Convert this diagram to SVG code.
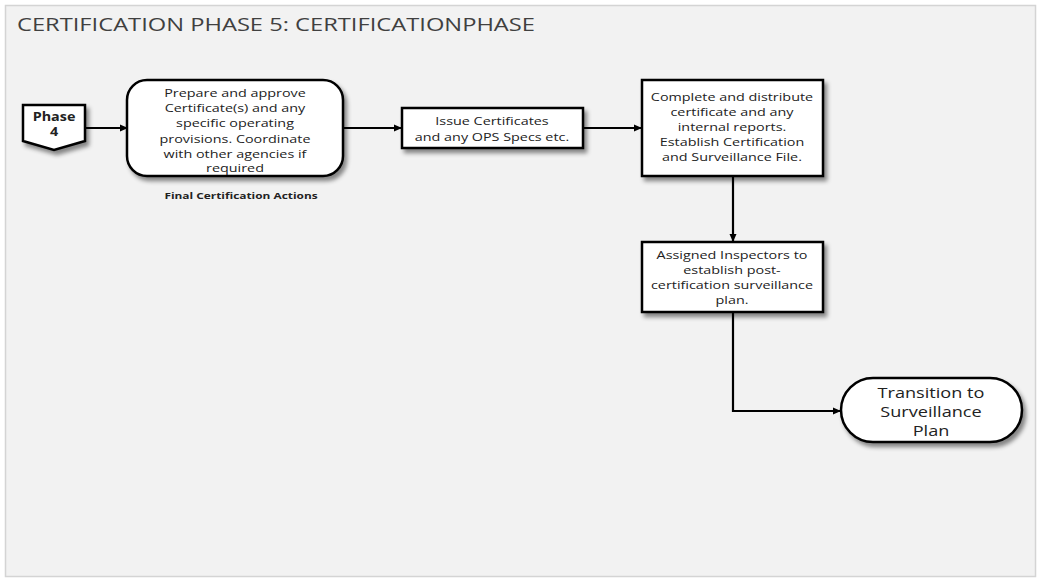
<svg xmlns="http://www.w3.org/2000/svg" width="1039" height="580" viewBox="0 0 1039 580">
<defs>
<filter id="sh" x="-20%" y="-20%" width="140%" height="150%">
<feDropShadow dx="3" dy="4" stdDeviation="2" flood-color="#000" flood-opacity="0.45"/>
</filter>
<marker id="arr" markerWidth="8" markerHeight="8" refX="7" refY="4" orient="auto" markerUnits="userSpaceOnUse">
<path d="M0,0.5 L8,4 L0,7.5 Z" fill="#000"/>
</marker>
<style>
.node{fill:#fff;stroke:#000;stroke-width:2.5;filter:url(#sh)}
.t{font-family:"Open Sans","Liberation Sans",sans-serif;font-size:11.5px;fill:#222;text-anchor:middle}
.b{font-weight:bold}
.big{font-size:14.5px}
.small{font-size:9.5px}
.con{fill:none;stroke:#000;stroke-width:2.2;marker-end:url(#arr)}
</style>
</defs>
<rect x="0" y="0" width="1039" height="580" fill="#fff"/>
<rect x="5.5" y="5.5" width="1030" height="571" fill="#f2f2f2" stroke="#d4d4d4" stroke-width="1.5"/>
<text x="17" y="31" font-family="'Open Sans','Liberation Sans',sans-serif" font-size="18" fill="#404040" textLength="518" lengthAdjust="spacingAndGlyphs">CERTIFICATION PHASE 5: CERTIFICATIONPHASE</text>

<g id="connectors">
<line class="con" x1="86" y1="128" x2="127" y2="128"/>
<line class="con" x1="343" y1="128" x2="401" y2="128"/>
<line class="con" x1="583" y1="128" x2="641" y2="128"/>
<line class="con" x1="733" y1="176" x2="733" y2="241"/>
<polyline class="con" points="733,312 733,411 840,411"/>
</g>

<g id="phase4">
<path class="node" d="M23,105 L85,105 L85,141 L54,150 L23,141 Z"/>
<g transform="translate(54 0) scale(1.25 1)">
<text class="t b" x="0" y="121">Phase</text>
<text class="t b" x="0" y="136">4</text>
</g>
</g>

<g id="prepare">
<rect class="node" x="127" y="80" width="216" height="96" rx="20"/>
<g transform="translate(235 0) scale(1.25 1)">
<text class="t" x="0" y="97">Prepare and approve</text>
<text class="t" x="0" y="112">Certificate(s) and any</text>
<text class="t" x="0" y="127">specific operating</text>
<text class="t" x="0" y="143">provisions. Coordinate</text>
<text class="t" x="0" y="158">with other agencies if</text>
<text class="t" x="0" y="172">required</text>
</g>
</g>

<g id="label-final">
<g transform="translate(241 0) scale(1.25 1)">
<text class="t b small" x="0" y="199">Final Certification Actions</text>
</g>
</g>

<g id="issue">
<rect class="node" x="402" y="108" width="181" height="40"/>
<g transform="translate(492 0) scale(1.25 1)">
<text class="t" x="0" y="125">Issue Certificates</text>
<text class="t" x="0" y="141">and any OPS Specs etc.</text>
</g>
</g>

<g id="complete">
<rect class="node" x="642" y="80" width="181" height="96"/>
<g transform="translate(732 0) scale(1.25 1)">
<text class="t" x="0" y="101">Complete and distribute</text>
<text class="t" x="0" y="116">certificate and any</text>
<text class="t" x="0" y="131">internal reports.</text>
<text class="t" x="0" y="146">Establish Certification</text>
<text class="t" x="0" y="161">and Surveillance File.</text>
</g>
</g>

<g id="assigned">
<rect class="node" x="642" y="242" width="181" height="70"/>
<g transform="translate(732 0) scale(1.25 1)">
<text class="t" x="0" y="259">Assigned Inspectors to</text>
<text class="t" x="0" y="274">establish post-</text>
<text class="t" x="0" y="289">certification surveillance</text>
<text class="t" x="0" y="304">plan.</text>
</g>
</g>

<g id="transition">
<rect class="node" x="841" y="378" width="181" height="64" rx="32"/>
<g transform="translate(931 0) scale(1.25 1)">
<text class="t big" x="0" y="398">Transition to</text>
<text class="t big" x="0" y="417">Surveillance</text>
<text class="t big" x="0" y="436">Plan</text>
</g>
</g>
</svg>
